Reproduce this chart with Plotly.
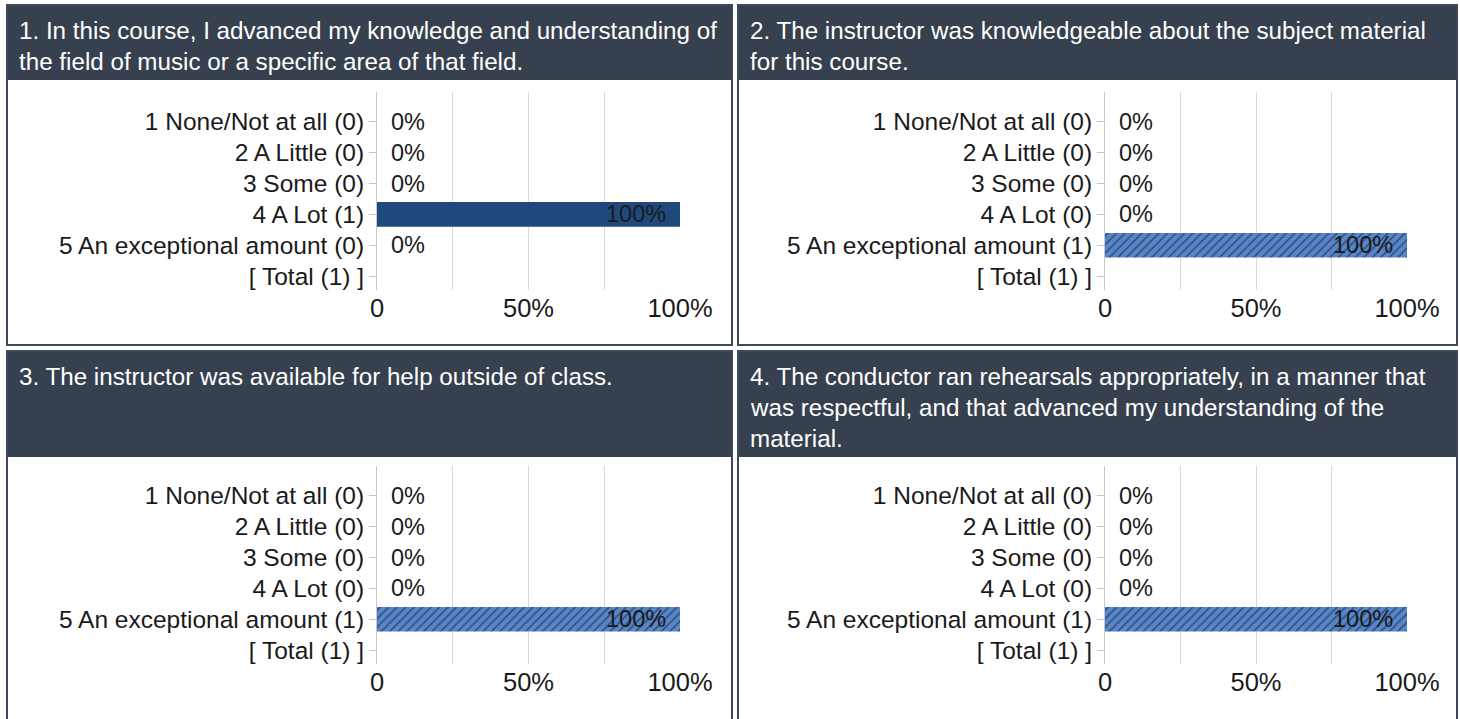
import plotly.graph_objects as go

W, H = 1460, 719

# Survey data
questions = [
    ["1. In this course, I advanced my knowledge and understanding of",
     "the field of music or a specific area of that field."],
    ["2. The instructor was knowledgeable about the subject material",
     "for this course."],
    ["3. The instructor was available for help outside of class."],
    ["4. The conductor ran rehearsals appropriately, in a manner that",
     "was respectful, and that advanced my understanding of the",
     "material."],
]
options = ["1 None/Not at all", "2 A Little", "3 Some", "4 A Lot", "5 An exceptional amount"]
counts_q1 = [0, 0, 0, 1, 0]
counts_q2 = [0, 0, 0, 0, 1]
counts_q3 = [0, 0, 0, 0, 1]
counts_q4 = [0, 0, 0, 0, 1]
all_counts = [counts_q1, counts_q2, counts_q3, counts_q4]
x_tickvals = [0, 25, 50, 75, 100]
x_ticktext = ["0", "", "50%", "", "100%"]

# Panel geometry in pixels: (left, right, header_top, header_bottom, body_bottom, plot_x0, plot_x1, plot_y0, plot_y1)
panels = [
    (7, 732, 5, 80, 345, 377, 680, 92, 290),
    (738, 1457, 5, 80, 345, 1105, 1407, 92, 290),
    (7, 732, 351, 457, 722, 377, 680, 466, 664),
    (738, 1457, 351, 457, 722, 1105, 1407, 466, 664),
]
solid = [True, False, False, False]

HEADER = "#36404e"
BORDER = "#3d4a5b"
FONT = "Liberation Sans, Arial, sans-serif"
TXT = "#1a1a1a"


def px(x):
    return x / W


def py(y):
    return 1 - y / H


fig = go.Figure()
shapes = []
annotations = []

for i, (counts, q, p) in enumerate(zip(all_counts, questions, panels)):
    left, right, ht, hb, bb, x0, x1, y0, y1 = p
    total = sum(counts)
    pct = [c / total * 100 for c in counts]
    labels = [f"{o} ({c})" for o, c in zip(options, counts)] + [f"[ Total ({total}) ]"]

    xa = "x" if i == 0 else f"x{i + 1}"
    ya = "y" if i == 0 else f"y{i + 1}"

    if solid[i]:
        marker = dict(color="#1f497d", line=dict(width=0))
    else:
        marker = dict(color="#5886cb", line=dict(width=0),
                      pattern=dict(shape="/", fgcolor="#141c28", bgcolor="#5886cb",
                                   size=6, solidity=0.28))

    fig.add_trace(go.Bar(
        x=pct, y=list(range(len(pct))), orientation="h", width=0.8,
        marker=marker, xaxis=xa, yaxis=ya, showlegend=False, hoverinfo="skip",
    ))

    axis_x = dict(
        domain=[px(x0), px(x1)], range=[0, 100], anchor=ya, automargin=False,
        tickvals=x_tickvals, ticktext=x_ticktext,
        showgrid=True, gridcolor="#d9d9d9", gridwidth=1,
        zeroline=False, showline=False, ticks="",
        tickfont=dict(family=FONT, size=25.5, color=TXT),
        fixedrange=True,
    )
    axis_y = dict(
        domain=[py(y1), py(y0)], range=[5.45, -0.97], anchor=xa, automargin=False,
        tickvals=list(range(len(labels))), ticktext=labels,
        showgrid=False, zeroline=False,
        showline=True, linecolor="#c8c8c8", linewidth=1,
        ticks="outside", ticklen=7, tickcolor="#c8c8c8",
        tickfont=dict(family=FONT, size=24.5, color=TXT),
        fixedrange=True,
    )
    fig.update_layout(**{("xaxis" if i == 0 else f"xaxis{i + 1}"): axis_x,
                         ("yaxis" if i == 0 else f"yaxis{i + 1}"): axis_y})

    # Value labels drawn from the same percentages as the bars
    for k, v in enumerate(pct):
        annotations.append(dict(x=v, y=k, xref=xa, yref=ya, text=f"{v:.0f}%",
                                xanchor="right" if v > 0 else "left",
                                xshift=-12 if v > 0 else 12, showarrow=False,
                                font=dict(family=FONT, size=23.5, color=TXT)))

    # Panel frame and header band
    shapes.append(dict(type="rect", xref="paper", yref="paper",
                       x0=px(left), x1=px(right), y0=py(hb), y1=py(ht),
                       fillcolor=HEADER, line=dict(width=0), layer="below"))
    shapes.append(dict(type="rect", xref="paper", yref="paper",
                       x0=px(left), x1=px(right), y0=py(bb), y1=py(ht),
                       fillcolor="rgba(0,0,0,0)", line=dict(width=2, color=BORDER),
                       layer="above"))

    # Header text lines
    for j, line in enumerate(q):
        annotations.append(dict(x=px(left + 10), y=py(ht + 26 + j * 30.5),
                                xref="paper", yref="paper", text=line,
                                xanchor="left", yanchor="middle", showarrow=False,
                                font=dict(family=FONT, size=24.2, color="#ffffff")))

fig.update_layout(
    width=W, height=H, autosize=False,
    margin=dict(l=0, r=0, t=0, b=0, autoexpand=False),
    paper_bgcolor="#ffffff", plot_bgcolor="rgba(0,0,0,0)",
    shapes=shapes, annotations=annotations, bargap=0.2,
)

fig.write_html("out.html", config={"displayModeBar": False})
